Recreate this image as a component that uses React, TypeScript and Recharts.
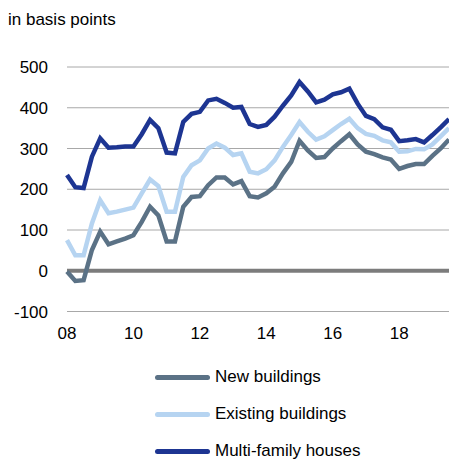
import React from "react";
import { LineChart, Line, XAxis, YAxis, CartesianGrid, ReferenceLine, Legend } from "recharts";

const quarters = [
  "2008Q1", "2008Q2", "2008Q3", "2008Q4", "2009Q1", "2009Q2", "2009Q3", "2009Q4",
  "2010Q1", "2010Q2", "2010Q3", "2010Q4", "2011Q1", "2011Q2", "2011Q3", "2011Q4",
  "2012Q1", "2012Q2", "2012Q3", "2012Q4", "2013Q1", "2013Q2", "2013Q3", "2013Q4",
  "2014Q1", "2014Q2", "2014Q3", "2014Q4", "2015Q1", "2015Q2", "2015Q3", "2015Q4",
  "2016Q1", "2016Q2", "2016Q3", "2016Q4", "2017Q1", "2017Q2", "2017Q3", "2017Q4",
  "2018Q1", "2018Q2", "2018Q3", "2018Q4", "2019Q1", "2019Q2", "2019Q3",
];

const newBuildings = [
  -2, -25, -23, 51, 96, 65, 72, 79, 87, 120, 157, 136, 72, 72, 157, 181,
  183, 210, 229, 229, 212, 220, 183, 180, 190, 206, 239, 267, 319, 295, 277, 279,
  300, 318, 335, 310, 292, 286, 278, 273, 250, 257, 262, 262, 282, 300, 322,
];

const existingBuildings = [
  75, 38, 38, 116, 173, 141, 145, 150, 155, 190, 224, 208, 145, 145, 230, 259,
  271, 300, 312, 302, 284, 288, 243, 239, 249, 271, 304, 333, 365, 341, 322, 330,
  345, 360, 373, 350, 336, 331, 320, 315, 292, 293, 299, 298, 310, 330, 350,
];

const multiFamily = [
  235, 205, 203, 280, 325, 302, 303, 305, 305, 335, 370, 350, 290, 288, 365, 385,
  390, 418, 422, 412, 400, 402, 360, 353, 358, 378, 405, 430, 463, 440, 413, 420,
  433, 438, 447, 410, 380, 372, 352, 346, 318, 320, 323, 315, 333, 352, 372,
];

const yTicks = [-100, 0, 100, 200, 300, 400, 500];
const xTickLabels: Record<string, string> = {
  "2008Q1": "08", "2010Q1": "10", "2012Q1": "12",
  "2014Q1": "14", "2016Q1": "16", "2018Q1": "18",
};

const seriesNames = ["New buildings", "Existing buildings", "Multi-family houses"];
const colors = ["#5b7286", "#b6d4f1", "#1d3592"];

const data = quarters.map((q, i) => ({
  q,
  newB: newBuildings[i],
  existing: existingBuildings[i],
  multi: multiFamily[i],
}));

const font = "'Liberation Sans', Arial, sans-serif";

function LegendBox() {
  return (
    <div style={{ position: "relative" }}>
      {seriesNames.map((name, i) => (
        <div
          key={name}
          style={{ position: "absolute", left: 155, top: i * 37 - 10, height: 20, display: "flex", alignItems: "center" }}
        >
          <div style={{ width: 55, height: 5, borderRadius: 3, background: colors[i] }} />
          <span style={{ marginLeft: 5, fontFamily: font, fontSize: 17, color: "#000", whiteSpace: "nowrap" }}>
            {name}
          </span>
        </div>
      ))}
    </div>
  );
}

export default function App() {
  return (
    <div
      style={{
        position: "fixed",
        left: 0,
        top: 0,
        width: 449,
        height: 461,
        overflow: "hidden",
        background: "#fff",
        fontFamily: font,
      }}
    >
      <div style={{ position: "absolute", left: 8, top: 10, fontSize: 17, color: "#000", zIndex: 2 }}>
        in basis points
      </div>
      <LineChart width={449} height={461} data={data} margin={{ top: 67, right: 0, bottom: 0, left: 0 }}>
        <CartesianGrid vertical={false} stroke="#a8a8a8" strokeWidth={1} />
        <XAxis
          dataKey="q"
          interval={0}
          axisLine={false}
          tickLine={false}
          tickSize={0}
          tickMargin={15}
          height={149.5}
          tick={{ fill: "#000", fontSize: 17, fontFamily: font }}
          tickFormatter={(v) => xTickLabels[v] || ""}
        />
        <YAxis
          domain={[-100, 500]}
          ticks={yTicks}
          width={67}
          axisLine={false}
          tickLine={false}
          tickSize={0}
          tickMargin={19}
          tick={{ fill: "#000", fontSize: 17, fontFamily: font }}
        />
        <ReferenceLine y={0} stroke="#7c7c7c" strokeWidth={4} />
        <Line dataKey="newB" name={seriesNames[0]} stroke={colors[0]} strokeWidth={4.5} dot={false} isAnimationActive={false} />
        <Line dataKey="existing" name={seriesNames[1]} stroke={colors[1]} strokeWidth={4.5} dot={false} isAnimationActive={false} />
        <Line dataKey="multi" name={seriesNames[2]} stroke={colors[2]} strokeWidth={4.5} dot={false} isAnimationActive={false} />
        <Legend
          layout="vertical"
          align="center"
          verticalAlign="bottom"
          wrapperStyle={{ position: "absolute", left: 0, top: 377, width: 449, height: 0 }}
          content={<LegendBox />}
        />
      </LineChart>
    </div>
  );
}
